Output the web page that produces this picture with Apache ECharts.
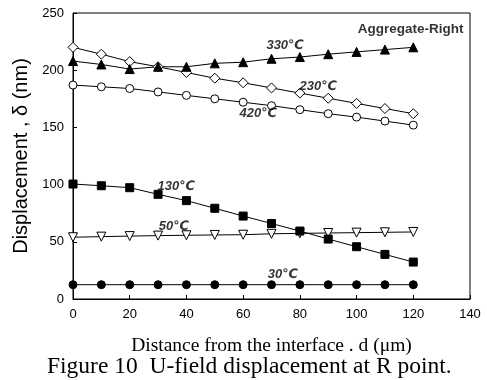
<!DOCTYPE html>
<html><head><meta charset="utf-8">
<script src="https://cdn.jsdelivr.net/npm/echarts@6/dist/echarts.min.js"></script>
<style>html,body{margin:0;padding:0;background:#fff}#c{width:487px;height:380px}</style>
</head><body><div id="c"></div>
<script>
const distances = [0,10,20,30,40,50,60,70,80,90,100,110,120];
const s330 = [208,205,201,203,203,206,207,210,211.5,214,216,218,220];
const s230 = [220,214,207.5,203,198,193,189,184.5,180,175.5,171,166.5,162];
const s420 = [187,185.5,184,181,178,175,172,169,165.5,162,159,155.5,152];
const s130 = [100.5,99,97.3,91.5,86,79.3,72.5,66,59.4,52.4,45.7,39,32.3];
const s50  = [54,54.5,55,55.4,55.7,56,56.2,57,57.4,57.7,58,58.3,58.6];
const s30  = [12.5,12.5,12.5,12.5,12.5,12.5,12.5,12.5,12.5,12.5,12.5,12.5,12.5];
const annotations = [
  ['330℃', 74.8, 222],
  ['230℃', 86.5, 186],
  ['420℃', 65.3, 162.6],
  ['130℃', 36.4, 98.8],
  ['50℃', 35.6, 63.8],
  ['30℃', 74, 21.9]
];
const xTicks = [0,20,40,60,80,100,120,140];
const yTicks = [0,50,100,150,200,250];

const chart = echarts.init(document.getElementById('c'));
function line(data, symbol, fill, rotate, size) {
  return {
    type: 'line',
    data: distances.map((d,i)=>[d, data[i]]),
    symbol: symbol, symbolSize: size || 8, symbolRotate: rotate || 0,
    showAllSymbol: true,
    lineStyle: {color:'#000', width:1},
    itemStyle: {color: fill, borderColor:'#000', borderWidth:1},
    emphasis: {disabled:true},
    animation:false, z: 3
  };
}
chart.setOption({
  animation:false,
  grid: {left:73, right:17, top:13, bottom:81, show:true, borderColor:'#000', borderWidth:1, backgroundColor:'transparent'},
  xAxis: {
    type:'value', min:0, max:140, interval:20,
    axisLine:{lineStyle:{color:'#000'}},
    axisTick:{inside:true, length:4, lineStyle:{color:'#000'}},
    splitLine:{show:false},
    axisLabel:{color:'#000', fontFamily:'Arial, Liberation Sans', fontSize:13, margin:9},
    name:'Distance from the interface . d (μm)', nameLocation:'middle', nameGap:37,
    nameTextStyle:{color:'#000', fontFamily:'Liberation Serif, Times New Roman', fontSize:19.5}
  },
  yAxis: {
    type:'value', min:0, max:250, interval:50,
    axisLine:{show:true, lineStyle:{color:'#000'}},
    axisTick:{show:true, inside:true, length:4, lineStyle:{color:'#000'}},
    splitLine:{show:false},
    axisLabel:{color:'#000', fontFamily:'Arial, Liberation Sans', fontSize:13, margin:9},
    name:'Displacement , δ (nm)', nameLocation:'middle', nameGap:38,
    nameTextStyle:{color:'#000', fontFamily:'Arial, Liberation Sans', fontSize:20}
  },
  graphic: [
    {type:'text', left:47, top:355, style:{text:'Figure 10  U-field displacement at R point.', fontFamily:'Liberation Serif, Times New Roman', fontSize:23.5, fill:'#000'}}
  ],
  series: [
    line(s30, 'circle', '#000', 0, 8),
    line(s50, 'triangle', '#fff', 180, 9),
    line(s130, 'rect', '#000', 0, 8),
    line(s420, 'circle', '#fff', 0, 8),
    line(s230, 'diamond', '#fff', 0, 10),
    line(s330, 'triangle', '#000', 0, 9),
    {
      type:'scatter', symbolSize:0, animation:false, z:5,
      data: annotations.map(a=>({value:[a[1],a[2]], name:a[0]})),
      label:{show:true, position:'inside', formatter:p=>p.name, color:'#000', fontFamily:'Arial, Liberation Sans, DejaVu Sans', fontWeight:'bold', fontStyle:'italic', fontSize:13},
      emphasis:{disabled:true}
    },
    {
      type:'scatter', symbolSize:0, animation:false, z:5,
      data: [{value:[137.7, 236], name:'Aggregate-Right'}],
      label:{show:true, position:'left', distance:0, formatter:p=>p.name, color:'#000', fontFamily:'Arial, Liberation Sans', fontWeight:'bold', fontSize:13.5},
      emphasis:{disabled:true}
    }
  ]
});
</script></body></html>
